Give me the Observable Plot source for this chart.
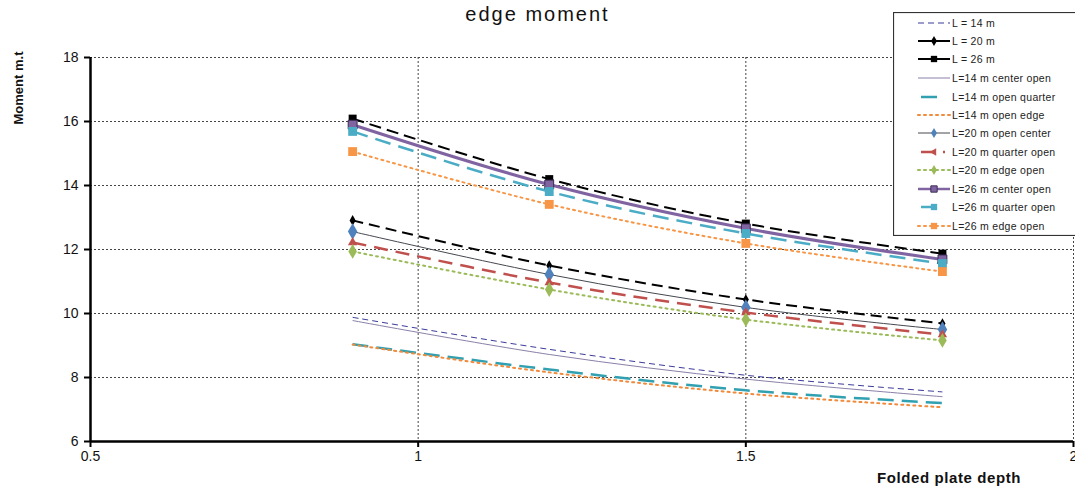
<!DOCTYPE html>
<html>
<head>
<meta charset="utf-8">
<script src="https://cdn.jsdelivr.net/npm/d3@7"></script>
<script src="https://cdn.jsdelivr.net/npm/@observablehq/plot@0.6"></script>
<style>
  html, body { margin: 0; padding: 0; background: #fff; }
  #wrap { position: relative; width: 1075px; height: 490px; overflow: hidden; font-family: "Liberation Sans", Arial, sans-serif; }
  #wrap > svg.main { position: absolute; left: 0; top: 0; z-index: 1; }
  .title { position: absolute; left: 0; width: 1075px; top: 3px; text-align: center; font-size: 20px; letter-spacing: 2px; color: #111; z-index: 2; }
  .ylab { position: absolute; left: 18px; top: 88px; transform: translate(-50%, -50%) rotate(-90deg); font-family: "Liberation Sans Narrow", "Arial Narrow", "Liberation Sans", sans-serif; font-weight: bold; font-size: 13px; white-space: nowrap; color: #111; z-index: 2; }
  .xlab { position: absolute; left: 877px; top: 469px; font-family: "Liberation Sans Narrow", "Arial Narrow", "Liberation Sans", sans-serif; font-weight: bold; font-size: 15px; letter-spacing: 0.6px; color: #111; white-space: nowrap; z-index: 2; }
  #wrap > svg#legend { position: absolute; left: 893px; top: 12px; z-index: 3; }
</style>
</head>
<body>
<div id="wrap">
  <div class="title">edge moment</div>
  <div class="ylab">Moment m.t</div>
  <div class="xlab">Folded plate depth</div>
</div>
<script>
// ---- data ----
const depth = [0.9, 1.2, 1.5, 1.8];
const seriesNames = [
  "L = 14 m", "L = 20 m", "L = 26 m",
  "L=14 m center open", "L=14 m open quarter", "L=14 m open edge",
  "L=20 m open center", "L=20 m quarter open", "L=20 m edge open",
  "L=26 m center open", "L=26 m quarter open", "L=26 m edge open"
];
const L14 = [9.88, 8.88, 8.07, 7.55];
const L20 = [12.91, 11.5, 10.44, 9.69];
const L26 = [16.09, 14.2, 12.81, 11.87];
const L14center = [9.78, 8.72, 7.95, 7.4];
const L14quarter = [9.04, 8.25, 7.6, 7.2];
const L14edge = [9.03, 8.16, 7.5, 7.07];
const L20center = [12.56, 11.22, 10.19, 9.5];
const L20quarter = [12.22, 10.97, 10.03, 9.34];
const L20edge = [11.94, 10.75, 9.81, 9.16];
const L26center = [15.9, 14.03, 12.66, 11.69];
const L26quarter = [15.69, 13.81, 12.5, 11.56];
const L26edge = [15.06, 13.41, 12.19, 11.31];
const xTicks = [0.5, 1, 1.5, 2];
const yTicks = [6, 8, 10, 12, 14, 16, 18];

const allValues = [L14, L20, L26, L14center, L14quarter, L14edge, L20center, L20quarter, L20edge, L26center, L26quarter, L26edge];

// ---- styles ----
const styles = [
  {stroke: "#3b3b9a", width: 1, dash: "6,4", marker: null},
  {stroke: "#000000", width: 2, dash: "11,6", marker: "diamond", mfill: "#000", r: 3.2},
  {stroke: "#000000", width: 2, dash: "12,6", marker: "square", mfill: "#000", r: 4.5},
  {stroke: "#8a80a8", width: 1, dash: null, marker: null},
  {stroke: "#31a0b0", width: 2.5, dash: "16,8", marker: null},
  {stroke: "#f08a3c", width: 2, dash: "2,4", marker: null},
  {stroke: "#45484f", width: 1, dash: null, marker: "diamond", mfill: "#4f81bd", r: 5},
  {stroke: "#c0504d", width: 2.5, dash: "14,8", marker: "triangle", mfill: "#c0504d", r: 3.5},
  {stroke: "#9bbb59", width: 2, dash: "2,4", marker: "diamond", mfill: "#9bbb59", r: 4.5},
  {stroke: "#8064a2", width: 3, dash: null, marker: "square", mfill: "#8064a2", r: 5, mstroke: "#3c2c55"},
  {stroke: "#4bacc6", width: 2.5, dash: "16,8", marker: "square", mfill: "#4bacc6", r: 5},
  {stroke: "#f79646", width: 2, dash: "2,4", marker: "square", mfill: "#f79646", r: 5}
];

const table = [];
seriesNames.forEach((name, i) => {
  depth.forEach((d, j) => table.push({series: name, idx: i, depth: d, moment: allValues[i][j]}));
});

const lineMarks = seriesNames.map((name, i) => {
  const s = styles[i];
  return Plot.line(table.filter(d => d.idx === i), {
    x: "depth", y: "moment", stroke: s.stroke, strokeWidth: s.width,
    strokeDasharray: s.dash || undefined, curve: "catmull-rom", strokeLinecap: s.dash === "2,4" ? "round" : "butt"
  });
});
const dotMarks = seriesNames.map((name, i) => {
  const s = styles[i];
  if (!s.marker) return null;
  return Plot.dot(table.filter(d => d.idx === i), {
    x: "depth", y: "moment", symbol: s.marker, r: s.r, fill: s.mfill,
    stroke: s.mstroke || "none", strokeWidth: 1
  });
}).filter(Boolean);

const chart = Plot.plot({
  width: 1075,
  height: 490,
  marginLeft: 90,
  marginRight: 2,
  marginTop: 57,
  marginBottom: 49,
  style: {fontFamily: "'Liberation Sans', Arial, sans-serif", fontSize: "14px", background: "transparent", overflow: "visible"},
  x: {domain: [0.5, 2], ticks: xTicks, tickFormat: d => String(d), label: null, tickSize: 6, tickPadding: 3},
  y: {domain: [6, 18], ticks: yTicks, tickFormat: d => String(d), label: null, tickSize: 6, tickPadding: 6},
  marks: [
    Plot.ruleY(yTicks.filter(v => v > 6), {stroke: "#444", strokeWidth: 1, strokeDasharray: "2,2"}),
    Plot.ruleX(xTicks.filter(v => v > 0.5), {stroke: "#444", strokeWidth: 1, strokeDasharray: "2,2"}),
    ...lineMarks,
    ...dotMarks,
    Plot.axisX({ticks: xTicks, tickFormat: d => String(d), tickSize: 6, tickPadding: 4, stroke: "#000", strokeWidth: 2, fill: "#111"}),
    Plot.axisY({ticks: yTicks, tickFormat: d => String(d), tickSize: 6, tickPadding: 6, stroke: "#000", strokeWidth: 2, fill: "#111"}),
    Plot.ruleX([0.5], {stroke: "#000", strokeWidth: 2.5}),
    Plot.ruleY([6], {stroke: "#000", strokeWidth: 2.5})
  ]
});
chart.classList.add("main");
document.getElementById("wrap").appendChild(chart);

// ---- legend ----
const lw = 184, lh = 224;
const legend = d3.select("#wrap").append("svg").attr("id", "legend")
  .attr("width", lw).attr("height", lh);
legend.append("rect").attr("x", 0.5).attr("y", 0.5).attr("width", lw - 1).attr("height", lh - 1)
  .attr("fill", "#fff").attr("stroke", "#333").attr("stroke-width", 1.2);
const rowY = [11, 29, 47, 66, 85, 103, 121, 140, 158, 177, 195, 214];
const symPath = {
  square: d3.symbol(d3.symbolSquare, 40)(),
  diamond: d3.symbol(d3.symbolDiamond, 30)(),
  triangle: d3.symbol(d3.symbolTriangle, 25)()
};
seriesNames.forEach((name, i) => {
  const s = styles[i];
  const g = legend.append("g").attr("transform", `translate(0,${rowY[i]})`);
  const x1 = 25, x2 = 57;
  let dash = s.dash;
  if (i === 1 || i === 2) dash = null;
  const isShort = (i === 4 || i === 7 || i === 10);
  g.append("line").attr("x1", isShort ? 28 : x1).attr("x2", isShort ? 52 : x2).attr("y1", 0).attr("y2", 0)
    .attr("stroke", s.stroke).attr("stroke-width", Math.min(s.width, 2.5))
    .attr("stroke-dasharray", dash || null).attr("stroke-linecap", dash === "2,4" ? "round" : "butt");
  if (s.marker) {
    g.append("path").attr("d", symPath[s.marker]).attr("transform", `translate(41,0)` + (s.marker === "triangle" ? " rotate(-90)" : ""))
      .attr("fill", s.mfill).attr("stroke", s.mstroke || "none");
  }
  g.append("text").attr("x", 59).attr("y", 0).attr("dy", "0.35em")
    .attr("font-family", "'Liberation Sans', Arial, sans-serif").attr("font-size", 10.5)
    .attr("letter-spacing", 0.3)
    .attr("fill", "#222").text(name);
});
</script>
</body>
</html>
